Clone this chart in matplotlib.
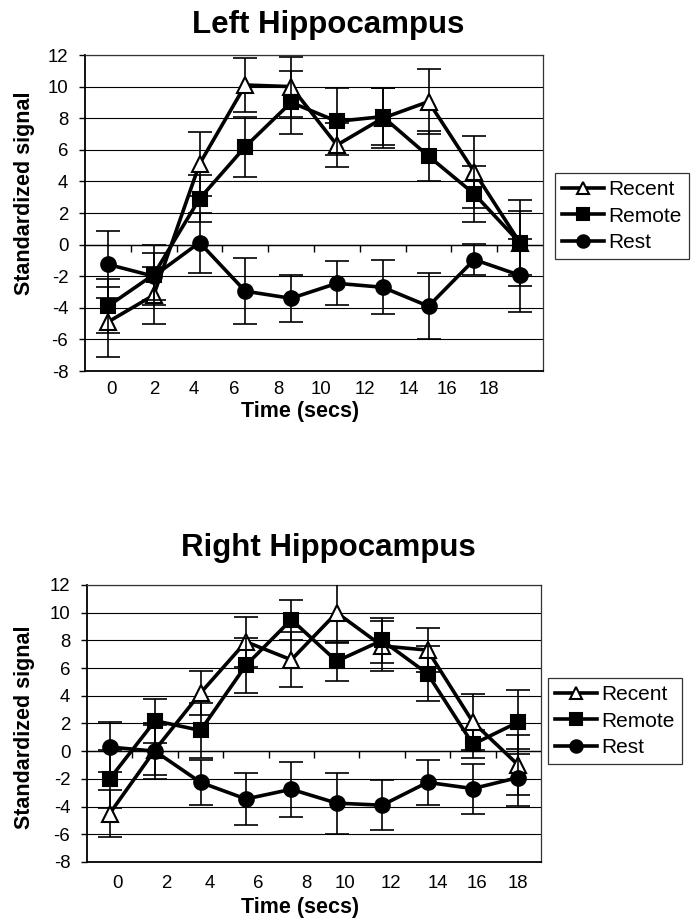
import numpy as np
import matplotlib
matplotlib.use("Agg")
import matplotlib.pyplot as plt
from matplotlib.lines import Line2D

plt.rcParams['font.family'] = ['Liberation Sans', 'DejaVu Sans']

# ---------------- data ----------------
time_labels = ["0", "2", "4", "6", "8", "10", "12", "14", "16", "18"]
series_names = ["Recent", "Remote", "Rest"]

left_recent = [-4.9, -3.2, 5.1, 10.1, 10.0, 6.3, 8.0, 9.05, 4.6, 0.1]
left_recent_err = [2.2, 1.8, 2.0, 1.7, 1.9, 1.4, 1.9, 2.05, 2.3, 2.7]
left_remote = [-3.9, -1.9, 2.9, 6.2, 9.0, 7.8, 8.1, 5.6, 3.2, 0.1]
left_remote_err = [1.7, 1.9, 1.5, 1.9, 2.0, 2.1, 1.8, 1.6, 1.8, 2.0]
left_rest = [-1.25, -2.0, 0.13, -2.95, -3.4, -2.45, -2.7, -3.9, -0.95, -1.95]
left_rest_err = [2.1, 1.5, 1.9, 2.1, 1.5, 1.4, 1.7, 2.1, 1.0, 2.3]

right_recent = [-4.5, 0.1, 4.2, 7.9, 6.6, 10.0, 7.6, 7.3, 2.1, -1.0]
right_recent_err = [1.7, 1.8, 1.6, 1.8, 2.0, 2.2, 1.8, 1.6, 2.0, 2.15]
right_remote = [-2.0, 2.2, 1.5, 6.2, 9.5, 6.5, 8.0, 5.6, 0.5, 2.1]
right_remote_err = [2.1, 1.6, 2.0, 2.0, 1.45, 1.4, 1.6, 2.0, 1.0, 2.3]
right_rest = [0.3, 0.0, -2.25, -3.45, -2.75, -3.75, -3.9, -2.25, -2.7, -1.9]
right_rest_err = [1.8, 2.0, 1.6, 1.9, 2.0, 2.2, 1.8, 1.6, 1.8, 2.05]

yticks = [-8, -6, -4, -2, 0, 2, 4, 6, 8, 10, 12]

# ---------------- layout / style ----------------
W, H = 694, 919
fig = plt.figure(figsize=(W / 100, H / 100), dpi=100)

def fx(px):
    return px / W

def fy(py):
    return 1 - py / H

panels = [
    dict(title="Left Hippocampus", title_y=25,
         rect=(85, 55, 543, 371),
         label_pos=[0.07, 1.01, 1.88, 2.76, 3.72, 4.66, 5.62, 6.57, 7.40, 8.32],
         tick_pad=7.5, xlabel_y=412, ylabel_y=193,
         legend_box=(555, 173, 690, 260),
         data=[(left_recent, left_recent_err), (left_remote, left_remote_err),
               (left_rest, left_rest_err)]),
    dict(title="Right Hippocampus", title_y=548,
         rect=(87, 585, 541, 862),
         label_pos=[0.18, 1.24, 2.21, 3.27, 4.34, 5.18, 6.19, 7.23, 8.08, 8.99],
         tick_pad=9, xlabel_y=907, ylabel_y=727,
         legend_box=(548, 678, 690, 765),
         data=[(right_recent, right_recent_err), (right_remote, right_remote_err),
               (right_rest, right_rest_err)]),
]

markers = ['^', 's', 'o']
msizes = [11, 10, 10.5]
mfaces = ['white', 'black', 'black']

for p in panels:
    l, t, r, b = p['rect']
    ax = fig.add_axes([fx(l), fy(b), fx(r) - fx(l), fy(t) - fy(b)])
    x = np.arange(len(time_labels))
    ax.set_xlim(-0.5, len(time_labels) - 0.5)
    ax.set_ylim(yticks[0], yticks[-1])
    ax.set_yticks(yticks)
    ax.set_yticklabels([str(v) for v in yticks], fontsize=13.4)
    ax.tick_params(axis='y', direction='out', length=4, width=1, pad=8)
    ax.yaxis.grid(True, color='black', linewidth=0.8)
    ax.set_axisbelow(True)

    ax.set_xticks(p['label_pos'])
    ax.set_xticklabels(time_labels, fontsize=13.4)
    ax.tick_params(axis='x', length=0, pad=p['tick_pad'])

    # category axis crossing at 0 with tick marks between categories
    sec = ax.secondary_xaxis((0 - yticks[0]) / (yticks[-1] - yticks[0]))
    sec.set_xticks(np.arange(len(time_labels) - 1) + 0.5)
    sec.set_xticklabels([])
    sec.tick_params(axis='x', direction='out', length=5, width=1)
    sec.spines['bottom'].set_visible(False)
    ax.axhline(0, color='black', linewidth=1.0, zorder=1)

    for sp in ['left', 'bottom']:
        ax.spines[sp].set_linewidth(1.3)
        ax.spines[sp].set_color('black')
    for sp in ['top', 'right']:
        ax.spines[sp].set_linewidth(0.9)
        ax.spines[sp].set_color('#333333')

    for i, (vals, errs) in enumerate(p['data']):
        ax.errorbar(x, vals, yerr=errs, fmt='none', ecolor='black',
                    elinewidth=1.2, capsize=8.5, capthick=1.2, zorder=3 + i * 2)
        ax.plot(x, vals, color='black', linewidth=2.6, marker=markers[i],
                markersize=msizes[i], markerfacecolor=mfaces[i],
                markeredgecolor='black', markeredgewidth=1.5,
                zorder=4 + i * 2)

    fig.text(fx(328), fy(p['title_y']), p['title'], ha='center', va='center',
             fontsize=22.5, fontweight='bold')
    fig.text(fx(300), fy(p['xlabel_y']), "Time (secs)", ha='center', va='center',
             fontsize=15.5, fontweight='bold')
    fig.text(fx(25), fy(p['ylabel_y']), "Standardized signal", ha='center',
             va='center', rotation=90, fontsize=15.5, fontweight='bold')

    handles = [Line2D([], [], color='black', linewidth=2.6, marker=markers[i],
                      markersize=msizes[i] * 0.85, markerfacecolor=mfaces[i],
                      markeredgecolor='black', markeredgewidth=1.5)
               for i in range(3)]
    lb = p['legend_box']
    leg = fig.legend(handles, series_names, loc='upper left',
                     bbox_to_anchor=(fx(lb[0]), fy(lb[1])),
                     fontsize=15, frameon=True, fancybox=False,
                     edgecolor='black', handlelength=2.0, handletextpad=0.2,
                     labelspacing=0.35, borderpad=0.35, borderaxespad=0.0)
    leg.get_frame().set_linewidth(0.9)

fig.savefig("out.png", dpi=100)
